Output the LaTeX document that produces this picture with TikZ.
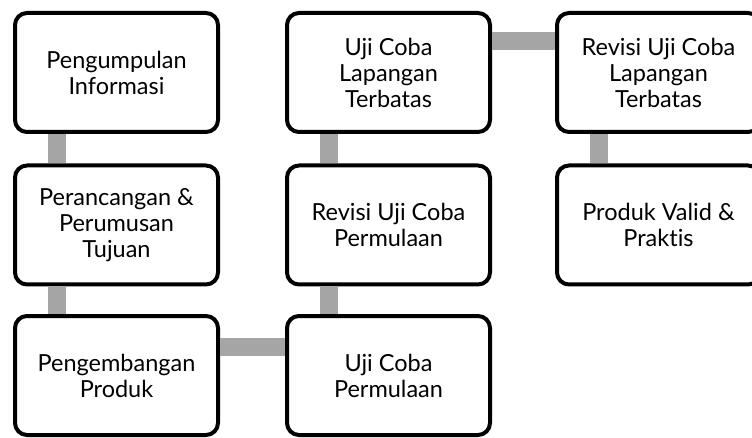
\documentclass[tikz,border=0pt]{standalone}
\usepackage{fontspec}
\setmainfont[Ligatures=NoCommon]{Lato}
\usetikzlibrary{calc}
\begin{document}
\begin{tikzpicture}[x=1pt,y=-1pt,
  stepbox/.style={draw=black,line width=4pt,rounded corners=12pt,fill=white,
    minimum width=203pt,minimum height=119pt,align=center,inner sep=0pt,
    font=\fontsize{23.5}{26}\selectfont},
  link/.style={draw=linkgray,line width=18pt}]
\definecolor{linkgray}{HTML}{A5A5A5}
\useasboundingbox (0,0) rectangle (752,438);
\node[stepbox] (a) at (116.5,72.5) {Pengumpulan\\Informasi};
\node[stepbox] (b) at (116.5,225) {Perancangan \&\\Perumusan\\Tujuan};
\node[stepbox] (c) at (116.5,375.5) {Pengembangan\\Produk};
\node[stepbox] (d) at (388.5,375.5) {Uji Coba\\Permulaan};
\node[stepbox] (e) at (388.5,225) {Revisi Uji Coba\\Permulaan};
\node[stepbox] (f) at (388.5,72.5) {Uji Coba\\Lapangan\\Terbatas};
\node[stepbox] (g) at (658.5,72.5) {Revisi Uji Coba\\Lapangan\\Terbatas};
\node[stepbox] (h) at (658.5,225) {Produk Valid \&\\Praktis};
\draw[link] ([xshift=-59.5pt]a.south) -- ([xshift=-59.5pt]b.north);
\draw[link] ([xshift=-59.5pt]b.south) -- ([xshift=-59.5pt]c.north);
\draw[link] ([yshift=28.5pt]c.east) -- ([yshift=28.5pt]d.west);
\draw[link] ([xshift=-59.5pt]d.north) -- ([xshift=-59.5pt]e.south);
\draw[link] ([xshift=-59.5pt]e.north) -- ([xshift=-59.5pt]f.south);
\draw[link] ([yshift=31pt]f.east) -- ([yshift=31pt]g.west);
\draw[link] ([xshift=-59.5pt]g.south) -- ([xshift=-59.5pt]h.north);
\end{tikzpicture}
\end{document}
